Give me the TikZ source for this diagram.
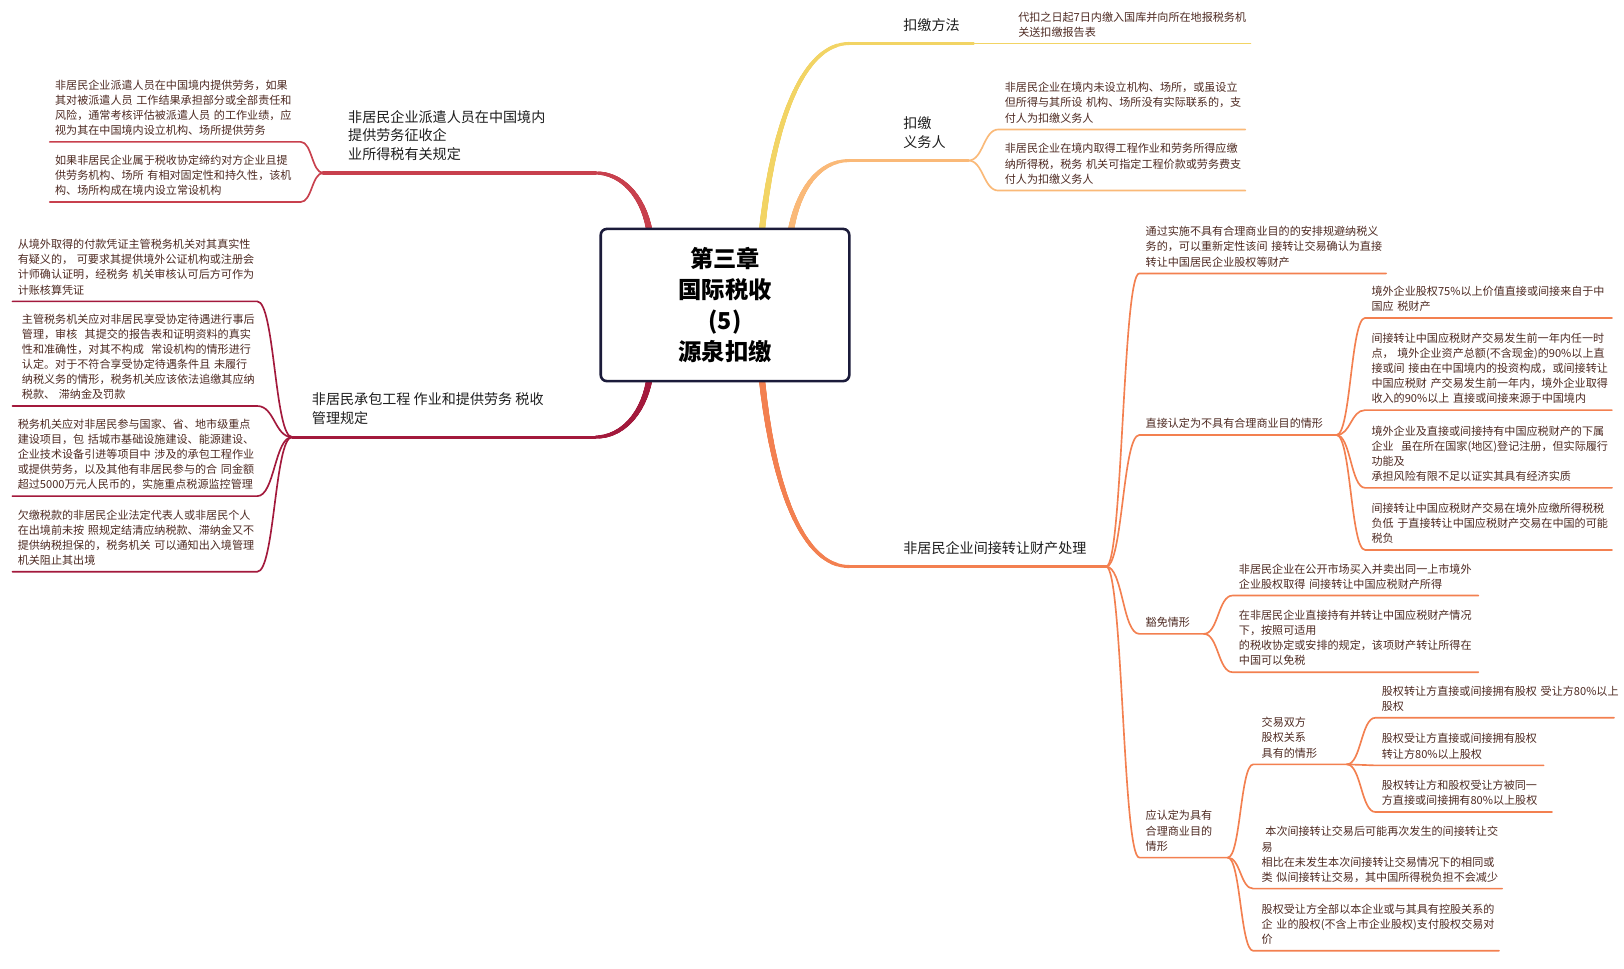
\documentclass[tikz,border=0pt]{standalone}
\usepackage{fontspec}
\setmainfont{Noto Sans CJK SC}
\usetikzlibrary{calc,backgrounds}
\definecolor{cred}{HTML}{C8404D}
\definecolor{ccrim}{HTML}{A3193C}
\definecolor{cyel}{HTML}{F2D464}
\definecolor{corg}{HTML}{FAB978}
\definecolor{ccor}{HTML}{F38050}
\definecolor{leaftxt}{HTML}{4E2A22}
\definecolor{labtxt}{HTML}{1E1E1E}
\definecolor{boxline}{HTML}{1B1B3A}
\tikzset{
  leaf/.style={anchor=south west, inner xsep=6pt, inner ysep=0pt, align=left, text=leaftxt,
    font=\fontsize{10.7}{14.6}\selectfont, execute at end node={\rule[-6.9pt]{0pt}{0pt}}},
  mlabel/.style={anchor=south west, inner xsep=6pt, inner ysep=0pt, align=left, text=labtxt,
    font=\fontsize{13.6}{18}\selectfont, execute at end node={\rule[-12.8pt]{0pt}{0pt}}},
  cbox/.style={draw=boxline, line width=2.5pt, rounded corners=6pt, fill=white,
    minimum width=240pt, minimum height=147pt, align=center, text=black,
    font=\fontsize{22.5}{30}\selectfont\bfseries},
  sconn/.style={to path={.. controls ($(\tikztostart)!0.5!(\tikztostart -| \tikztotarget)$) and ($(\tikztotarget)!0.5!(\tikztotarget -| \tikztostart)$) .. (\tikztotarget)}},
  sub/.style={line width=1.6pt, line cap=round},
  mainb/.style={line width=3pt, line cap=round},
}
% tapered main-branch curve: colour, start, control 1, control 2, end, approximate length
\newcommand\tapercurve[6]{%
  \foreach \k in {1,...,14}{%
    \pgfmathsetmacro\wd{5.8-2.8*(\k-1)/13}\pgfmathsetmacro\dl{#6*\k/14+(\k==14)*30}%
    \draw[#1, line width=\wd pt, line cap=round, dash pattern=on \dl pt off 10000pt]
      (#2) .. controls (#3) and (#4) .. (#5);}}
\begin{document}
\begin{tikzpicture}[x=1pt,y=-1pt]
\useasboundingbox (0,0) rectangle (1568,935);
% centre
\node[cbox] (C) at (700,294.5) {第三章\\国际税收\\(5)\\源泉扣缴};
% branch coordinates
\coordinate (l1s) at (575,167); \coordinate (f1) at (312,167);
\coordinate (l2s) at (575,422); \coordinate (f2) at (282,422);
\coordinate (y1s) at (820,42);  \coordinate (fy) at (940,42);
\coordinate (o1s) at (820,155); \coordinate (fo) at (935,155);
\coordinate (c1s) at (820,547); \coordinate (fc) at (1068,547);
% main curve start points and controls
\coordinate (ra) at ($(C.north west)+(48,2)$);   \coordinate (rb) at ($(ra)+(-6,-33)$);  \coordinate (rc) at ($(l1s)+(25,0)$);
\coordinate (ka) at ($(C.south west)+(48,-2)$);  \coordinate (kb) at ($(ka)+(-6,33)$);   \coordinate (kc) at ($(l2s)+(25,0)$);
\coordinate (ya) at ($(C.north west)+(157,2)$);  \coordinate (yb) at ($(ya)+(11,-103)$); \coordinate (yc) at ($(y1s)+(-45,0)$);
\coordinate (oa) at ($(C.north west)+(185,2)$);  \coordinate (ob) at ($(oa)+(7,-38)$);   \coordinate (oc) at ($(o1s)+(-30,0)$);
\coordinate (ca) at ($(C.south west)+(157,-2)$); \coordinate (cb) at ($(ca)+(11,104)$);  \coordinate (cc) at ($(c1s)+(-45,0)$);
% labels
\node[mlabel] (L1) at (330,167) {非居民企业派遣人员在中国境内\\提供劳务征收企\\业所得税有关规定};
\node[mlabel] (L2) at (295,422) {非居民承包工程 作业和提供劳务 税收\\管理规定};
\node[mlabel] (R1) at (866,42) {扣缴方法};
\node[mlabel] (R2) at (866,155) {扣缴\\义务人};
\node[mlabel] (R3) at (866,547) {非居民企业间接转让财产处理};
% left leaves
\node[leaf,inner xsep=5pt,text width=232pt] (A1) at (48,137) {非居民企业派遣人员在中国境内提供劳务，如果\\其对被派遣人员~工作结果承担部分或全部责任和\\风险，通常考核评估被派遣人员~的工作业绩，应\\视为其在中国境内设立机构、场所提供劳务};
\node[leaf,inner xsep=5pt,text width=232pt] (A2) at (48,195) {如果非居民企业属于税收协定缔约对方企业且提\\供劳务机构、场所~有相对固定性和持久性，该机\\构、场所构成在境内设立常设机构};
\node[leaf,inner xsep=5pt,text width=226pt] (B1) at (12,291) {从境外取得的付款凭证主管税务机关对其真实性\\有疑义的，~可要求其提供境外公证机构或注册会\\计师确认证明，经税务~机关审核认可后方可作为\\计账核算凭证};
\node[leaf,inner xsep=9pt,text width=218pt] (B2) at (12,392) {主管税务机关应对非居民享受协定待遇进行事后\\管理，审核~~其提交的报告表和证明资料的真实\\性和准确性，对其不构成~~常设机构的情形进行\\认定。对于不符合享受协定待遇条件且~未履行\\纳税义务的情形，税务机关应该依法追缴其应纳\\税款、~滞纳金及罚款};
\node[leaf,inner xsep=5pt,text width=226pt] (B3) at (12,479) {税务机关应对非居民参与国家、省、地市级重点\\建设项目，包~括城市基础设施建设、能源建设、\\企业技术设备引进等项目中~涉及的承包工程作业\\或提供劳务，以及其他有非居民参与的合~同金额\\超过5000万元人民币的，实施重点税源监控管理};
\node[leaf,inner xsep=5pt,text width=226pt] (B4) at (12,552) {欠缴税款的非居民企业法定代表人或非居民个人\\在出境前未按~照规定结清应纳税款、滞纳金又不\\提供纳税担保的，税务机关~可以通知出入境管理\\机关阻止其出境};
% right leaves
\node[leaf,text width=218pt] (C1) at (977,42) {代扣之日起7日内缴入国库并向所在地报税务机\\关送扣缴报告表};
\node[leaf,text width=226pt] (C2) at (964,125) {非居民企业在境内未设立机构、场所，或虽设立\\但所得与其所设~机构、场所没有实际联系的，支\\付人为扣缴义务人};
\node[leaf,text width=226pt] (C3) at (964,184) {非居民企业在境内取得工程作业和劳务所得应缴\\纳所得税，税务~机关可指定工程价款或劳务费支\\付人为扣缴义务人};
\node[leaf,text width=226pt] (D1) at (1100,264) {通过实施不具有合理商业目的的安排规避纳税义\\务的，可以重新定性该间~接转让交易确认为直接\\转让中国居民企业股权等财产};
\node[leaf,text width=178pt] (D2) at (1100,420) {直接认定为不具有合理商业目的情形};
\node[leaf,text width=50pt] (D3) at (1100,612) {豁免情形};
\node[leaf,text width=73pt] (D4) at (1100,828) {应认定为具有\\合理商业目的\\情形};
\node[leaf,text width=226pt] (E1) at (1318,307) {境外企业股权75\%以上价值直接或间接来自于中\\国应~税财产};
\node[leaf,text width=226pt] (E2) at (1318,396) {间接转让中国应税财产交易发生前一年内任一时\\点，~境外企业资产总额(不含现金)的90\%以上直\\接或间~接由在中国境内的投资构成，或间接转让\\中国应税财~产交易发生前一年内，境外企业取得\\收入的90\%以上~直接或间接来源于中国境内};
\node[leaf,text width=226pt] (E3) at (1318,471) {境外企业及直接或间接持有中国应税财产的下属\\企业~~虽在所在国家(地区)登记注册，但实际履行\\功能及\\承担风险有限不足以证实其具有经济实质};
\node[leaf,text width=226pt] (E4) at (1318,531) {间接转让中国应税财产交易在境外应缴所得税税\\负低~于直接转让中国应税财产交易在中国的可能\\税负};
\node[leaf,text width=225pt] (F1) at (1190,575) {非居民企业在公开市场买入并卖出同一上市境外\\企业股权取得~间接转让中国应税财产所得};
\node[leaf,text width=225pt] (F2) at (1190,649) {在非居民企业直接持有并转让中国应税财产情况\\下，按照可适用\\的税收协定或安排的规定，该项财产转让所得在\\中国可以免税};
\node[leaf,inner xsep=8pt,text width=74pt] (G1) at (1210,738) {交易双方\\股权关系\\具有的情形};
\node[leaf,inner xsep=8pt,text width=224pt] (G2) at (1210,858) {~本次间接转让交易后可能再次发生的间接转让交\\易\\相比在未发生本次间接转让交易情况下的相同或\\类~似间接转让交易，其中国所得税负担不会减少};
\node[leaf,inner xsep=8pt,text width=221pt] (G3) at (1210,918) {股权受让方全部以本企业或与其具有控股关系的\\企~业的股权(不含上市企业股权)支付股权交易对\\价};
\node[leaf,text width=218pt] (H1) at (1328,693) {股权转让方直接或间接拥有股权~受让方80\%以上\\股权};
\node[leaf,text width=150pt] (H2) at (1328,739) {股权受让方直接或间接拥有股权\\转让方80\%以上股权};
\node[leaf,text width=158pt] (H3) at (1328,784) {股权转让方和股权受让方被同一\\方直接或间接拥有80\%以上股权};
\begin{scope}[on background layer]
\fill[white] (0,0) rectangle (1568,935);
% main branches (tapered curve + straight run to the fork)
\tapercurve{cred}{ra}{rb}{rc}{l1s}{85}   \draw[mainb,cred] (l1s) -- (f1);
\tapercurve{ccrim}{ka}{kb}{kc}{l2s}{85}  \draw[mainb,ccrim] (l2s) -- (f2);
\tapercurve{cyel}{ya}{yb}{yc}{y1s}{215}  \draw[mainb,cyel] (y1s) -- (fy);
\tapercurve{corg}{oa}{ob}{oc}{o1s}{90}   \draw[mainb,corg] (o1s) -- (fo);
\tapercurve{ccor}{ca}{cb}{cc}{c1s}{215}  \draw[mainb,ccor] (c1s) -- (fc);
% sub connectors
\foreach \n in {A1,A2} \draw[sub,cred] (f1) to[sconn] (\n.south east) -- (\n.south west);
\foreach \n in {B1,B2,B3,B4} \draw[sub,ccrim] (f2) to[sconn] (\n.south east) -- (\n.south west);
\draw[sub,cyel] (fy) -- (C1.south west) -- (C1.south east);
\foreach \n in {C2,C3} \draw[sub,corg] (fo) to[sconn] (\n.south west) -- (\n.south east);
\foreach \n in {D1,D2,D3,D4} \draw[sub,ccor] (fc) to[sconn] (\n.south west) -- (\n.south east);
\foreach \n in {E1,E2,E3,E4} \draw[sub,ccor] (D2.south east) to[sconn] (\n.south west) -- (\n.south east);
\foreach \n in {F1,F2} \draw[sub,ccor] (D3.south east) to[sconn] (\n.south west) -- (\n.south east);
\foreach \n in {G1,G2,G3} \draw[sub,ccor] (D4.south east) to[sconn] (\n.south west) -- (\n.south east);
\foreach \n in {H1,H2,H3} \draw[sub,ccor] (G1.south east) to[sconn] (\n.south west) -- (\n.south east);
\end{scope}
\end{tikzpicture}
\end{document}
